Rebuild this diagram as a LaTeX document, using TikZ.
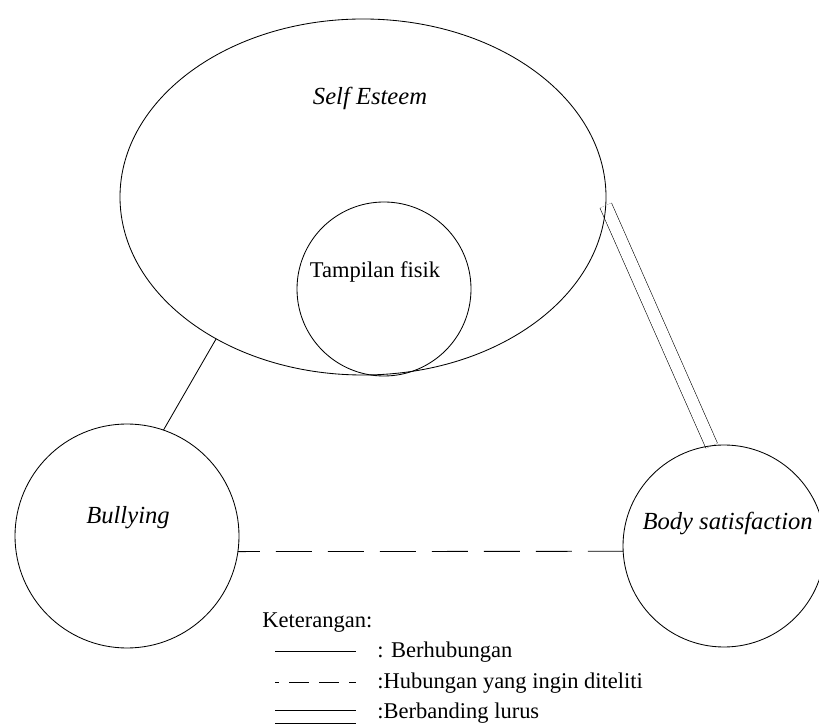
\documentclass[tikz,border=0pt]{standalone}
\usepackage{fontspec}
\setmainfont{Liberation Serif}
\usetikzlibrary{shapes.geometric,backgrounds}

\begin{document}
\begin{tikzpicture}[
		line width=0.6pt,
		judul/.style={font=\fontsize{17.5}{20}\selectfont\itshape, anchor=base, inner sep=0pt},
		ket/.style={font=\fontsize{16}{19}\selectfont, anchor=base west, inner sep=0pt},
		bulat/.style={draw, circle, inner sep=0pt, outer sep=0pt},
		ganda/.style={double, double distance=0.3cm},
		putus/.style={dash pattern=on 0.9cm off 0.4cm, dash phase=0.35cm}
	]
				\useasboundingbox (0,0) rectangle (20.475,18.1);
				
				\node[draw, ellipse, minimum width=12.15cm, minimum height=8.9cm, inner sep=0pt, outer sep=0pt] (se) at (9.075,13.175) {};
				\node[judul] (se-t) at (9.25,15.475) {Self Esteem};
				
				\node[bulat, minimum size=4.35cm] (fisik) at (9.6,10.875) {};
				\node[judul, font=\fontsize{16}{19}\selectfont] (fisik-t) at (9.375,11.15) {Tampilan fisik};
				
				\node[bulat, minimum size=5.6cm] (bully) at (3.175,4.7) {};
				\node[judul] (bully-t) at (3.2,5.0) {Bullying};
				
				\node[bulat, minimum size=5.05cm] (body) at (18.1,4.45) {};
				\node[judul] (body-t) at (18.19,4.85) {Body satisfaction};
				
				\draw (bully.71) -- (se.224);
				\draw[putus] (bully.-8) -- (body.183);
				\begin{scope}[on background layer]
					\draw[ganda] (se.-2) -- (body.97);
				\end{scope}
				
				\node[ket] (ket) at (6.55,2.425) {Keterangan:};
				\coordinate (l1a) at (6.875,1.825);
				\coordinate (l1b) at (8.9,1.825);
				\draw (l1a) -- (l1b);
				\node[ket] (k1) at (9.425,1.675) {: Berhubungan};
				\coordinate (l2a) at (6.875,1.05);
				\coordinate (l2b) at (8.9,1.05);
				\draw[dash pattern=on 0.5cm off 0.25cm, dash phase=0.4cm] (l2a) -- (l2b);
				\node[ket] (k2) at (9.425,0.9) {:Hubungan yang ingin diteliti};
				\coordinate (l3a) at (6.875,0.175);
				\coordinate (l3b) at (8.9,0.175);
				\draw[ganda] (l3a) -- (l3b);
				\node[ket] (k3) at (9.425,0.15) {:Berbanding lurus};
			\end{tikzpicture}
\end{document}
